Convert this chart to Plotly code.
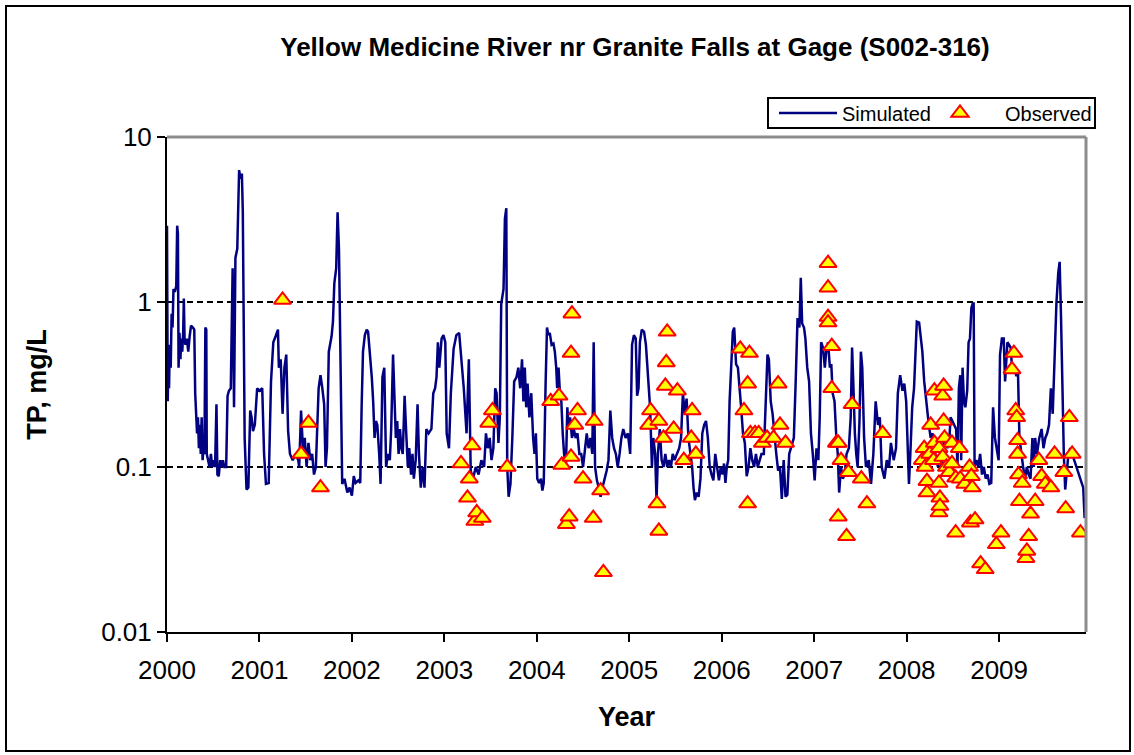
import plotly.graph_objects as go

# Simulated total phosphorus (decimal year, mg/L)
sim_year = [
    2000.000, 2000.004, 2000.008, 2000.015, 2000.022, 2000.030, 2000.040, 2000.050, 2000.060, 2000.070,
    2000.085, 2000.100, 2000.110, 2000.118, 2000.125, 2000.135, 2000.145, 2000.155, 2000.165, 2000.175,
    2000.182, 2000.190, 2000.200, 2000.215, 2000.230, 2000.245, 2000.260, 2000.280, 2000.295, 2000.305,
    2000.315, 2000.325, 2000.335, 2000.345, 2000.355, 2000.365, 2000.375, 2000.385, 2000.395, 2000.405,
    2000.415, 2000.425, 2000.430, 2000.445, 2000.460, 2000.475, 2000.490, 2000.505, 2000.520, 2000.535,
    2000.545, 2000.560, 2000.575, 2000.590, 2000.605, 2000.620, 2000.640, 2000.655, 2000.670, 2000.690,
    2000.710, 2000.725, 2000.740, 2000.760, 2000.780, 2000.795, 2000.810, 2000.820, 2000.830, 2000.840,
    2000.860, 2000.880, 2000.900, 2000.915, 2000.930, 2000.950, 2000.975, 2001.000, 2001.030, 2001.050,
    2001.070, 2001.100, 2001.125, 2001.150, 2001.175, 2001.200, 2001.210, 2001.230, 2001.250, 2001.270,
    2001.290, 2001.310, 2001.330, 2001.360, 2001.390, 2001.420, 2001.430, 2001.450, 2001.470, 2001.490,
    2001.510, 2001.530, 2001.550, 2001.570, 2001.590, 2001.610, 2001.640, 2001.660, 2001.680, 2001.700,
    2001.715, 2001.730, 2001.750, 2001.780, 2001.795, 2001.810, 2001.830, 2001.845, 2001.860, 2001.875,
    2001.895, 2001.920, 2001.950, 2001.975, 2002.000,
    2002.020, 2002.040, 2002.070, 2002.090, 2002.105, 2002.120, 2002.140, 2002.160, 2002.175, 2002.195,
    2002.215, 2002.230, 2002.245, 2002.260, 2002.275, 2002.295, 2002.310, 2002.330, 2002.350, 2002.370,
    2002.390, 2002.410, 2002.425, 2002.445, 2002.460, 2002.475, 2002.490, 2002.505, 2002.520, 2002.535,
    2002.550, 2002.570, 2002.590, 2002.605, 2002.620, 2002.640, 2002.655, 2002.670, 2002.690, 2002.710,
    2002.725, 2002.745, 2002.765, 2002.785, 2002.805, 2002.830, 2002.860, 2002.880, 2002.900, 2002.915,
    2002.930, 2002.945, 2002.970, 2002.990, 2003.010, 2003.025, 2003.050, 2003.070, 2003.100, 2003.130,
    2003.160, 2003.185, 2003.210, 2003.240, 2003.265, 2003.285, 2003.310, 2003.340, 2003.370, 2003.400,
    2003.430, 2003.450, 2003.470, 2003.490, 2003.510, 2003.530, 2003.550, 2003.565, 2003.585, 2003.600,
    2003.615, 2003.640, 2003.655, 2003.670, 2003.680, 2003.695, 2003.715, 2003.735, 2003.755, 2003.780,
    2003.800, 2003.820, 2003.840, 2003.855, 2003.870, 2003.885, 2003.900, 2003.920, 2003.940, 2003.960,
    2003.975, 2003.990,
    2004.005, 2004.025, 2004.045, 2004.060, 2004.075, 2004.095, 2004.110, 2004.125, 2004.140, 2004.160,
    2004.180, 2004.195, 2004.210, 2004.220, 2004.235, 2004.250, 2004.265, 2004.280, 2004.295, 2004.315,
    2004.330, 2004.345, 2004.360, 2004.380, 2004.400, 2004.420, 2004.440, 2004.460, 2004.480, 2004.500,
    2004.520, 2004.540, 2004.560, 2004.580, 2004.600, 2004.615, 2004.630, 2004.650, 2004.670, 2004.690,
    2004.710, 2004.730, 2004.755, 2004.775, 2004.795, 2004.815, 2004.835, 2004.855, 2004.875, 2004.895,
    2004.915, 2004.935, 2004.960, 2004.985, 2005.010, 2005.030, 2005.050, 2005.070, 2005.085, 2005.100,
    2005.115, 2005.135, 2005.160, 2005.180, 2005.195, 2005.210, 2005.225, 2005.245, 2005.260, 2005.280,
    2005.295, 2005.310, 2005.330, 2005.350, 2005.370, 2005.390, 2005.410, 2005.430, 2005.450, 2005.470,
    2005.490, 2005.515, 2005.540, 2005.560, 2005.580, 2005.600, 2005.620, 2005.640, 2005.660, 2005.680,
    2005.695, 2005.710, 2005.730, 2005.750, 2005.770, 2005.790, 2005.810, 2005.830, 2005.850, 2005.870,
    2005.890, 2005.910, 2005.930, 2005.950, 2005.970, 2005.990,
    2006.010, 2006.025, 2006.040, 2006.055, 2006.070, 2006.085, 2006.100, 2006.120, 2006.135, 2006.155,
    2006.175, 2006.195, 2006.210, 2006.230, 2006.250, 2006.270, 2006.290, 2006.310, 2006.330, 2006.350,
    2006.370, 2006.390, 2006.410, 2006.430, 2006.455, 2006.475, 2006.495, 2006.510, 2006.530, 2006.550,
    2006.570, 2006.590, 2006.610, 2006.630, 2006.650, 2006.670, 2006.690, 2006.710, 2006.730, 2006.750,
    2006.780, 2006.800, 2006.820, 2006.840, 2006.855, 2006.870, 2006.890, 2006.905, 2006.925, 2006.945,
    2006.965, 2006.985, 2007.005, 2007.025, 2007.045, 2007.060, 2007.075, 2007.095, 2007.115, 2007.130,
    2007.150, 2007.170, 2007.185, 2007.200, 2007.220, 2007.240, 2007.255, 2007.270, 2007.290, 2007.310,
    2007.330, 2007.350, 2007.375, 2007.395, 2007.410, 2007.425, 2007.440, 2007.455, 2007.470, 2007.490,
    2007.505, 2007.520, 2007.540, 2007.560, 2007.590, 2007.615, 2007.640, 2007.665, 2007.690, 2007.710,
    2007.730, 2007.760, 2007.785, 2007.810, 2007.830, 2007.860, 2007.885, 2007.905, 2007.930, 2007.955,
    2007.975, 2007.995,
    2008.010, 2008.025, 2008.040, 2008.060, 2008.080, 2008.095, 2008.110, 2008.135, 2008.150, 2008.170,
    2008.190, 2008.205, 2008.220, 2008.240, 2008.260, 2008.280, 2008.300, 2008.320, 2008.340, 2008.360,
    2008.380, 2008.400, 2008.420, 2008.440, 2008.460, 2008.475, 2008.495, 2008.515, 2008.535, 2008.550,
    2008.565, 2008.580, 2008.590, 2008.605, 2008.620, 2008.635, 2008.655, 2008.670, 2008.685, 2008.700,
    2008.715, 2008.725, 2008.735, 2008.755, 2008.775, 2008.795, 2008.815, 2008.835, 2008.855, 2008.875,
    2008.895, 2008.915, 2008.935, 2008.955, 2008.975, 2008.995, 2009.010, 2009.030, 2009.050, 2009.065,
    2009.090, 2009.110, 2009.125, 2009.140, 2009.160, 2009.185, 2009.205, 2009.220, 2009.240, 2009.260,
    2009.280, 2009.300, 2009.320, 2009.340, 2009.360, 2009.375, 2009.390, 2009.410, 2009.435, 2009.460,
    2009.480, 2009.500, 2009.520, 2009.540, 2009.560, 2009.580, 2009.600, 2009.620, 2009.640, 2009.655,
    2009.670, 2009.685, 2009.700, 2009.715, 2009.730, 2009.750, 2009.770, 2009.790, 2009.810, 2009.830,
    2009.850, 2009.870, 2009.890, 2009.910, 2009.925,
]
sim_tp = [
    2.9, 0.9, 0.25, 0.45, 0.3, 0.55, 0.4, 0.85, 0.7, 1.2,
    1.15, 1.25, 2.9, 2.6, 0.4, 0.65, 0.45, 0.6, 0.5, 0.65,
    1.05, 0.6, 0.55, 0.6, 0.5, 0.62, 0.72, 0.7, 0.68, 0.28,
    0.2, 0.16, 0.2, 0.13, 0.18, 0.12, 0.2, 0.11, 0.13, 0.12,
    0.7, 0.68, 0.12, 0.11, 0.1, 0.12, 0.1, 0.11, 0.1, 0.24,
    0.09, 0.088, 0.11, 0.1, 0.11, 0.1, 0.1, 0.27, 0.29, 0.3,
    1.6, 0.23, 1.85, 2.1, 6.3, 5.6, 6.0, 3.5, 0.49, 0.15,
    0.073, 0.075, 0.22, 0.2, 0.165, 0.18, 0.3, 0.29, 0.3, 0.12,
    0.079, 0.08, 0.33, 0.57, 0.62, 0.68, 0.4, 0.45, 0.21, 0.4,
    0.48, 0.165, 0.12, 0.11, 0.12, 0.11, 0.1, 0.22, 0.13, 0.15,
    0.1, 0.14, 0.11, 0.12, 0.09, 0.1, 0.3, 0.36, 0.3, 0.24,
    0.1, 0.13, 0.5, 0.62, 0.76, 1.3, 1.6, 3.5, 2.1, 0.4,
    0.079, 0.085, 0.07, 0.075, 0.067,
    0.088, 0.08, 0.083, 0.08, 0.23, 0.5, 0.63, 0.68, 0.66, 0.5,
    0.35, 0.25, 0.15, 0.19, 0.18, 0.12, 0.079, 0.35, 0.4, 0.1,
    0.12, 0.11, 0.17, 0.48, 0.28, 0.15, 0.19, 0.12, 0.17, 0.13,
    0.12, 0.27, 0.15, 0.1, 0.13, 0.09, 0.12, 0.085, 0.11, 0.24,
    0.12, 0.075, 0.1, 0.075, 0.17, 0.16, 0.17, 0.28, 0.3, 0.35,
    0.57, 0.4, 0.6, 0.63, 0.57, 0.16, 0.13, 0.28, 0.52, 0.63,
    0.65, 0.45, 0.3, 0.16, 0.45, 0.095, 0.085, 0.1, 0.09, 0.11,
    0.1, 0.16, 0.13, 0.15, 0.11, 0.13, 0.3, 0.28, 0.14, 0.2,
    0.97, 1.2, 3.2, 3.7, 0.1, 0.066, 0.079, 0.15, 0.33, 0.35,
    0.4, 0.3, 0.45, 0.25, 0.4, 0.23, 0.32, 0.2, 0.28, 0.15,
    0.12, 0.16,
    0.085, 0.08, 0.085, 0.072, 0.08, 0.32, 0.7, 0.63, 0.65, 0.55,
    0.56, 0.5, 0.4, 0.3, 0.4, 0.28, 0.25, 0.16, 0.12, 0.1,
    0.23, 0.17, 0.2, 0.15, 0.17, 0.15, 0.16, 0.12, 0.12, 0.1,
    0.13, 0.16, 0.13, 0.15, 0.12, 0.57, 0.1, 0.083, 0.075, 0.066,
    0.075, 0.083, 0.095, 0.11, 0.22, 0.15, 0.13, 0.12, 0.1, 0.12,
    0.15, 0.17, 0.15, 0.16, 0.12, 0.55, 0.63, 0.6, 0.27, 0.3,
    0.57, 0.68, 0.66, 0.55, 0.42, 0.3, 0.23, 0.1, 0.15, 0.12,
    0.063, 0.12, 0.17, 0.11, 0.1, 0.12, 0.1, 0.11, 0.1, 0.12,
    0.11, 0.12, 0.13, 0.15, 0.28, 0.21, 0.26, 0.15, 0.12, 0.1,
    0.075, 0.063, 0.07, 0.066, 0.085, 0.16, 0.18, 0.19, 0.15, 0.1,
    0.09, 0.083, 0.12, 0.1, 0.083, 0.1,
    0.09, 0.105, 0.08, 0.1, 0.11, 0.25, 0.42, 0.66, 0.7, 0.42,
    0.4, 0.3, 0.23, 0.16, 0.14, 0.088, 0.1, 0.13, 0.11, 0.1,
    0.12, 0.1, 0.11, 0.12, 0.12, 0.23, 0.48, 0.45, 0.25, 0.21,
    0.15, 0.12, 0.095, 0.1, 0.064, 0.11, 0.066, 0.068, 0.12, 0.13,
    0.15, 0.33, 0.8, 0.7, 1.4, 0.74, 0.7, 0.6, 0.4, 0.33,
    0.16, 0.12, 0.083, 0.13, 0.11, 0.2, 0.57, 0.53, 0.4, 0.5,
    0.57, 0.4, 0.42, 0.28, 0.25, 0.15, 0.12, 0.07, 0.1, 0.085,
    0.09, 0.12, 0.13, 0.2, 0.53, 0.3, 0.16, 0.12, 0.1, 0.19,
    0.5, 0.4, 0.15, 0.1, 0.11, 0.079, 0.12, 0.25, 0.18, 0.2,
    0.1, 0.085, 0.11, 0.1, 0.14, 0.11, 0.13, 0.28, 0.36, 0.29,
    0.32, 0.25,
    0.12, 0.079, 0.12, 0.23, 0.3, 0.5, 0.76, 0.75, 0.63, 0.5,
    0.33, 0.27, 0.22, 0.18, 0.15, 0.16, 0.13, 0.11, 0.1, 0.11,
    0.1, 0.14, 0.15, 0.13, 0.14, 0.2, 0.19, 0.18, 0.17, 0.1,
    0.3, 0.36, 0.11, 0.4, 0.25, 0.23, 0.29, 0.57, 0.6, 0.92,
    0.98, 0.98, 0.1, 0.11, 0.1, 0.12, 0.09, 0.1, 0.085, 0.09,
    0.079, 0.08, 0.23, 0.15, 0.13, 0.11, 0.48, 0.6, 0.6, 0.33,
    0.57, 0.55, 0.53, 0.4, 0.4, 0.36, 0.36, 0.15, 0.12, 0.1,
    0.085, 0.1, 0.09, 0.085, 0.15, 0.1, 0.15, 0.12, 0.15, 0.17,
    0.13, 0.15, 0.16, 0.18, 0.3, 0.21, 0.45, 0.98, 1.5, 1.75,
    0.8, 0.25, 0.12, 0.073, 0.09, 0.12, 0.13, 0.12, 0.11, 0.1,
    0.095, 0.088, 0.08, 0.075, 0.049,
]

# Observed grab samples (decimal year, mg/L)
obs_year = [
    2001.25, 2001.45, 2001.53, 2001.66,
    2003.18, 2003.25, 2003.27, 2003.30, 2003.33, 2003.35, 2003.41, 2003.48, 2003.52, 2003.68,
    2004.15, 2004.24, 2004.27, 2004.32, 2004.35, 2004.37, 2004.37, 2004.38, 2004.41, 2004.44,
    2004.50, 2004.61, 2004.62, 2004.69, 2004.72,
    2005.21, 2005.23, 2005.30, 2005.32, 2005.32, 2005.37, 2005.39, 2005.40, 2005.41, 2005.48,
    2005.52, 2005.59, 2005.67, 2005.68, 2005.72,
    2006.20, 2006.24, 2006.28, 2006.28, 2006.30, 2006.31, 2006.36, 2006.40, 2006.44, 2006.49,
    2006.56, 2006.61, 2006.63, 2006.69,
    2007.15, 2007.15, 2007.15, 2007.15, 2007.19, 2007.19, 2007.24, 2007.26, 2007.26, 2007.29,
    2007.35, 2007.37, 2007.41, 2007.51, 2007.57, 2007.74,
    2008.17, 2008.19, 2008.20, 2008.22, 2008.22, 2008.25, 2008.26, 2008.29, 2008.30, 2008.30,
    2008.35, 2008.35, 2008.35, 2008.36, 2008.36, 2008.39, 2008.39, 2008.40, 2008.40, 2008.41,
    2008.43, 2008.46, 2008.49, 2008.49, 2008.53, 2008.53, 2008.57, 2008.58, 2008.63, 2008.68,
    2008.69, 2008.70, 2008.71, 2008.74, 2008.80, 2008.85, 2008.97,
    2009.02, 2009.14, 2009.16, 2009.18, 2009.19, 2009.20, 2009.20, 2009.21, 2009.22, 2009.25,
    2009.29, 2009.30, 2009.32, 2009.34, 2009.39, 2009.43, 2009.46, 2009.50, 2009.56, 2009.60,
    2009.70, 2009.72, 2009.76, 2009.79, 2009.88,
]
obs_tp = [
    1.03, 0.12, 0.185, 0.075,
    0.105, 0.065, 0.085, 0.135, 0.047, 0.053, 0.049, 0.185, 0.22, 0.1,
    0.25, 0.27, 0.103, 0.045, 0.05, 0.115, 0.49, 0.85, 0.18, 0.22,
    0.085, 0.049, 0.19, 0.072, 0.023,
    0.18, 0.22, 0.06, 0.19, 0.041, 0.15, 0.31, 0.43, 0.66, 0.17,
    0.29, 0.11, 0.15, 0.22, 0.12,
    0.52, 0.22, 0.32, 0.06, 0.49, 0.16, 0.16, 0.16, 0.14, 0.15,
    0.15, 0.32, 0.18, 0.14,
    1.72, 1.22, 0.81, 0.75, 0.54, 0.3, 0.14, 0.14, 0.05, 0.11,
    0.038, 0.093, 0.24, 0.085, 0.06, 0.16,
    0.11, 0.13, 0.1, 0.082, 0.07, 0.12, 0.18, 0.11, 0.29, 0.14,
    0.13, 0.08, 0.053, 0.065, 0.058, 0.27, 0.115, 0.31, 0.19, 0.15,
    0.1, 0.093, 0.14, 0.105, 0.086, 0.04, 0.13, 0.085, 0.079, 0.1,
    0.046, 0.088, 0.075, 0.048, 0.026, 0.024, 0.034,
    0.04, 0.39, 0.49, 0.22, 0.2, 0.145, 0.12, 0.09, 0.062, 0.08,
    0.028, 0.031, 0.038, 0.052, 0.062, 0.11, 0.088, 0.079, 0.075, 0.12,
    0.093, 0.056, 0.2, 0.12, 0.04,
]

year_ticks = list(range(2000, 2010))
tp_ticks = [0.01, 0.1, 1, 10]
tp_tick_text = ["0.01", "0.1", "1", "10"]

FONT = "Arial, 'Liberation Sans', sans-serif"
W, H = 1134, 755
ML, MR, MT, MB = 167, 48, 137, 123

fig = go.Figure()
fig.add_trace(go.Scatter(
    x=sim_year, y=sim_tp, mode="lines", name="Simulated", legend="legend",
    line=dict(color="#000080", width=2.5),
))
fig.add_trace(go.Scatter(
    x=obs_year, y=obs_tp, mode="markers", name="Observed", legend="legend2",
    marker=dict(symbol="triangle-up", size=15, color="#FFFF00",
                line=dict(color="#FF0000", width=2)),
))

pw = W - ML - MR
ph = H - MT - MB


def px_x(p):
    return (p - ML) / pw


def px_y(p):
    return (H - MB - p) / ph


legend_common = dict(
    orientation="h", xref="container", yref="container",
    xanchor="left", y=1 - 113 / H, yanchor="middle",
    borderwidth=0, bgcolor="rgba(0,0,0,0)",
    font=dict(size=20, family=FONT, color="black"),
)

fig.update_layout(
    width=W, height=H, autosize=False,
    margin=dict(l=ML, r=MR, t=MT, b=MB, pad=0, autoexpand=False),
    paper_bgcolor="white", plot_bgcolor="white",
    font=dict(family=FONT, color="black"),
    title=dict(
        text="Yellow Medicine River nr Granite Falls at Gage (S002-316)",
        font=dict(size=26, weight="bold", family=FONT),
        xref="container", yref="container",
        x=635 / W, xanchor="center", y=1 - 47 / H, yanchor="middle",
    ),
    showlegend=True,
    legend=dict(legend_common, x=774 / W, itemwidth=58),
    legend2=dict(legend_common, x=915 / W, itemwidth=80),
    xaxis=dict(
        range=[2000, 2009.94], tickmode="array", tickvals=year_ticks,
        ticks="outside", ticklen=8, tickwidth=2, tickcolor="black",
        showline=True, linecolor="black", linewidth=2,
        showgrid=False, zeroline=False, ticklabelstandoff=6,
        tickfont=dict(size=26, family=FONT),
        title=dict(text="Year", font=dict(size=27, weight="bold", family=FONT), standoff=23),
    ),
    yaxis=dict(
        type="log", range=[-2, 1], tickmode="array",
        tickvals=tp_ticks, ticktext=tp_tick_text,
        ticks="outside", ticklen=8, tickwidth=2, tickcolor="black",
        showline=True, linecolor="black", linewidth=2,
        showgrid=True, gridcolor="black", gridwidth=2, griddash="6px,4px",
        zeroline=False,
        tickfont=dict(size=26, family=FONT),
        title=dict(text="TP, mg/L", font=dict(size=27, weight="bold", family=FONT), standoff=47),
    ),
    shapes=[
        # grey plot-area border on top and right
        dict(type="line", xref="paper", yref="paper", x0=0, x1=1, y0=1, y1=1,
             line=dict(color="#8c8c8c", width=3)),
        dict(type="line", xref="paper", yref="paper", x0=1, x1=1, y0=0, y1=1,
             line=dict(color="#8c8c8c", width=3)),
        # legend frame
        dict(type="rect", xref="paper", yref="paper",
             x0=px_x(768), x1=px_x(1095), y0=px_y(128), y1=px_y(98),
             line=dict(color="black", width=2), fillcolor="white", layer="below"),
        # outer chart frame
        dict(type="rect", xref="paper", yref="paper",
             x0=px_x(6), x1=px_x(1130), y0=px_y(751), y1=px_y(6),
             line=dict(color="black", width=2), fillcolor="rgba(0,0,0,0)"),
    ],
)

fig.write_html("out.html")
